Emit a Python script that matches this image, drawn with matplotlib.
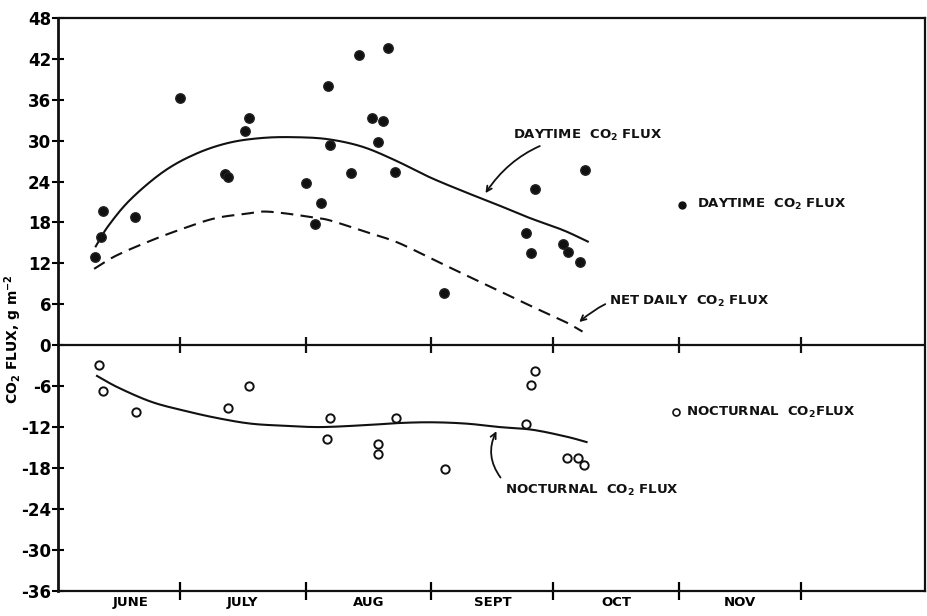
import matplotlib
matplotlib.use("Agg")
import matplotlib.pyplot as plt
import numpy as np

plt.rcParams['font.family'] = ['DejaVu Sans']
plt.rcParams['mathtext.fontset'] = 'dejavusans'
plt.rcParams['mathtext.default'] = 'bf'

# ---- data (x = days after 1 June, y = g CO2 m^-2) ----
day_x = [9.1, 10.5, 11.1, 19.0, 30.0, 41.1, 41.8, 46.0, 47.0, 61.0, 63.3, 64.7, 66.4,
         67.1, 72.2, 74.1, 77.3, 78.9, 80.0, 81.4, 82.9, 95.0, 115.3, 116.6, 117.6,
         124.4, 125.7, 128.6, 129.7]
day_y = [12.9, 15.9, 19.7, 18.8, 36.3, 25.1, 24.6, 31.4, 33.3, 23.8, 17.8, 20.8, 38.0,
         29.3, 25.2, 42.6, 33.3, 29.8, 32.9, 43.6, 25.4, 7.6, 16.5, 13.5, 22.9,
         14.9, 13.6, 12.2, 25.7]

night_x = [10.1, 11.1, 19.1, 41.8, 47.1, 66.9, 66.2, 78.7, 78.7, 83.3, 95.3, 117.6,
           116.4, 115.4, 125.3, 128.0, 129.5]
night_y = [-2.9, -6.7, -9.8, -9.2, -6.0, -10.6, -13.8, -14.5, -16.0, -10.6, -18.2, -3.8,
           -5.9, -11.5, -16.6, -16.6, -17.6]

day_curve_x = [9.3, 12.4, 17.9, 26.1, 34.1, 42.2, 50.5, 58.6, 66.6, 75.0, 83.1, 91.3,
               99.7, 107.8, 116.0, 124.3, 130.5]
day_curve_y = [14.5, 17.5, 21.4, 25.5, 28.1, 29.7, 30.4, 30.5, 30.2, 29.1, 27.1, 24.7,
               22.6, 20.7, 18.7, 16.9, 15.2]

net_curve_x = [8.9, 14.2, 22.3, 30.3, 38.6, 46.6, 50.8, 56.4, 63.1, 67.0, 75.4, 83.5,
               91.6, 100.0, 108.2, 116.3, 124.7, 129.2]
net_curve_y = [11.2, 13.1, 15.2, 17.0, 18.6, 19.3, 19.6, 19.3, 18.7, 18.3, 16.7, 15.1,
               12.8, 10.4, 8.1, 5.8, 3.5, 2.0]

night_curve_x = [9.6, 14.8, 23.0, 31.1, 39.4, 47.5, 55.6, 64.7, 76.2, 84.3, 92.3, 100.7,
                 108.8, 116.9, 125.2, 130.2]
night_curve_y = [-4.5, -6.2, -8.3, -9.6, -10.7, -11.5, -11.8, -12.0, -11.7, -11.4,
                 -11.3, -11.5, -12.0, -12.4, -13.4, -14.2]

month_ends = [30, 61, 92, 122, 153, 183]
month_names = ['JUNE', 'JULY', 'AUG', 'SEPT', 'OCT', 'NOV']
month_label_pos = [18, 45.5, 76.5, 107, 137.5, 168]

y_ticks = [48, 42, 36, 30, 24, 18, 12, 6, 0, -6, -12, -18, -24, -30, -36]
y_tick_labels = ['48', '42', '36', '30', '24', '18', '12', '6', '0', '-6', '-12', '-18',
                 '-24', '-30', '-36']


def smooth_path(xs, ys, n=12):
    """Catmull-Rom rendering of a hand-drawn curve through the read points."""
    p = np.column_stack([xs, ys]).astype(float)
    p = np.vstack([2 * p[0] - p[1], p, 2 * p[-1] - p[-2]])
    out = []
    t = np.linspace(0, 1, n, endpoint=False)[:, None]
    for i in range(1, len(p) - 2):
        p0, p1, p2, p3 = p[i - 1], p[i], p[i + 1], p[i + 2]
        seg = 0.5 * ((2 * p1) + (-p0 + p2) * t + (2 * p0 - 5 * p1 + 4 * p2 - p3) * t ** 2
                     + (-p0 + 3 * p1 - 3 * p2 + p3) * t ** 3)
        out.append(seg)
    out.append(p[-2][None, :])
    out = np.vstack(out)
    return out[:, 0], out[:, 1]


# ---- figure ----
fig = plt.figure(figsize=(9.28, 6.16), dpi=100)
ax = fig.add_axes([0.0625, 0.041, 0.934, 0.930])
ax.set_xlim(0, 213.5)
ax.set_ylim(-36, 48)

for s in ax.spines.values():
    s.set_linewidth(1.6)
    s.set_color('#111111')
ax.spines['left'].set_linewidth(2.0)

# zero line with month ticks
ax.axhline(0, color='#111111', lw=1.6)
ax.vlines(month_ends, -1.2, 1.2, color='#111111', lw=1.6)

# curves
ax.plot(*smooth_path(day_curve_x, day_curve_y), color='#111111', lw=1.5)
ax.plot(*smooth_path(net_curve_x, net_curve_y), color='#111111', lw=1.5, dashes=(6, 3.5))
ax.plot(*smooth_path(night_curve_x, night_curve_y), color='#111111', lw=1.5)

# points
ax.plot(day_x, day_y, 'o', color='#111111', ms=6.8, mec='#222222')
ax.plot(night_x, night_y, 'o', mfc='white', mec='#111111', mew=1.4, ms=6)

# ticks
ax.set_yticks(y_ticks)
ax.set_yticklabels(y_tick_labels, fontsize=12, fontweight='bold')
ax.tick_params(axis='y', direction='inout', length=8, width=1.5, pad=1)
ax.set_xticks(month_ends)
ax.set_xticklabels([])
ax.tick_params(axis='x', which='major', direction='inout', length=13, width=1.6)
ax.set_xticks(month_label_pos, minor=True)
ax.set_xticklabels(month_names, minor=True, fontsize=9.5, fontweight='bold')
ax.tick_params(axis='x', which='minor', length=0, pad=4)

ax.set_ylabel('CO$_2$ FLUX, g m$^{-2}$', fontsize=10, fontweight='bold')
ax.yaxis.set_label_coords(-0.039, 0.44)

# annotations
akw = dict(fontsize=9.5, fontweight='bold', color='#111111')
ax.annotate('DAYTIME  CO$_2$ FLUX', xy=(105.3, 22.3), xytext=(112, 30.8),
            va='center', ha='left',
            arrowprops=dict(arrowstyle='->', lw=1.3, color='#111111',
                            connectionstyle='arc3,rad=0.25', shrinkA=1, shrinkB=0),
            **akw)
ax.annotate('NET DAILY  CO$_2$ FLUX', xy=(128.4, 3.4), xytext=(135.8, 6.4),
            va='center', ha='left',
            arrowprops=dict(arrowstyle='->', lw=1.3, color='#111111',
                            connectionstyle='arc3,rad=0.3', shrinkA=1, shrinkB=0),
            **akw)
ax.annotate('', xy=(108, -12.6), xytext=(109, -19.4),
            arrowprops=dict(arrowstyle='->', lw=1.3, color='#111111',
                            connectionstyle='arc3,rad=-0.3', shrinkA=0, shrinkB=0))
ax.text(110.2, -21.3, 'NOCTURNAL  CO$_2$ FLUX', va='center', ha='left', **akw)

# key
ax.plot([153.6], [20.6], 'o', color='#111111', ms=5)
ax.text(157.3, 20.6, 'DAYTIME  CO$_2$ FLUX', va='center', ha='left', **akw)
ax.plot([152.3], [-9.8], 'o', mfc='white', mec='#111111', mew=1.2, ms=5)
ax.text(154.6, -9.8, 'NOCTURNAL  CO$_2$FLUX', va='center', ha='left', **akw)

fig.savefig('out.png', dpi=100, facecolor='white')
